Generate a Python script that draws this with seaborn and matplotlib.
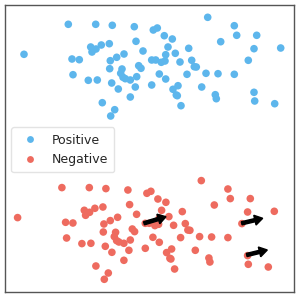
import matplotlib
matplotlib.use("Agg")
import matplotlib.pyplot as plt
import seaborn as sns
import pandas as pd

pos_x = [68.3, 95.7, 112.3, 134.3, 24.0, 136.0, 109.3, 101.3, 90.7, 96.0, 92.0, 143.0,
         124.0, 116.7, 72.0, 79.3, 110.3, 138.7, 141.0, 109.7, 122.0, 120.7, 73.0, 136.7,
         123.0, 125.3, 130.3, 88.3, 97.3, 111.7, 135.3, 118.3, 130.3, 102.3, 114.7, 110.7,
         207.7, 234.3, 153.3, 157.3, 236.7, 256.7, 164.3, 172.3, 220.7, 168.0, 188.7, 254.0,
         280.7, 175.3, 165.7, 151.7, 155.7, 161.3, 165.0, 180.0, 191.7, 248.3, 194.3, 196.3,
         159.3, 187.0, 206.0, 218.0, 234.3, 165.7, 151.7, 178.0, 201.7, 173.0, 176.3, 177.3,
         215.3, 216.3, 254.0, 254.7, 274.7, 181.0]
pos_y = [272.7, 272.7, 271.7, 270.3, 242.7, 255.7, 253.3, 252.0, 250.0, 248.0, 245.0, 246.0,
         243.0, 239.7, 238.0, 237.3, 236.3, 231.3, 228.7, 228.3, 228.0, 223.7, 222.3, 220.3,
         219.7, 218.3, 217.0, 216.7, 217.0, 214.0, 210.0, 208.0, 200.0, 194.3, 187.3, 181.0,
         279.7, 271.3, 267.0, 269.0, 261.7, 261.7, 261.3, 258.0, 255.3, 250.0, 248.7, 248.3,
         249.0, 243.7, 242.3, 237.0, 237.0, 234.7, 236.0, 235.0, 236.7, 236.7, 230.3, 230.0,
         223.0, 222.7, 223.7, 223.3, 222.7, 218.0, 212.0, 211.3, 210.0, 207.7, 202.0, 201.3,
         202.3, 198.3, 204.7, 196.0, 193.3, 191.3]

neg_x = [61.9, 89.3, 105.9, 127.9, 17.6, 129.6, 102.9, 94.9, 84.3, 89.6, 85.6, 136.6,
         117.6, 110.3, 65.6, 72.9, 103.9, 132.3, 134.6, 103.3, 115.6, 114.3, 66.6, 130.3,
         116.6, 118.9, 123.9, 81.9, 90.9, 105.3, 128.9, 111.9, 123.9, 95.9, 108.3, 104.3,
         201.3, 227.9, 146.9, 150.9, 230.3, 250.3, 157.9, 165.9, 214.3, 161.6, 182.3, 247.6,
         274.3, 168.9, 159.3, 145.3, 149.3, 154.9, 158.6, 173.6, 185.3, 241.9, 187.9, 189.9,
         152.9, 180.6, 199.6, 211.6, 227.9, 159.3, 145.3, 171.6, 195.3, 166.6, 169.9, 170.9,
         208.9, 209.9, 247.6, 248.3, 268.3, 174.6]
neg_y = [109.4, 109.4, 108.4, 107.0, 79.4, 92.4, 90.0, 88.7, 86.7, 84.7, 81.7, 82.7,
         79.7, 76.4, 74.7, 74.0, 73.0, 68.0, 65.4, 65.0, 64.7, 60.4, 59.0, 57.0,
         56.4, 55.0, 53.7, 53.4, 53.7, 50.7, 46.7, 44.7, 36.7, 31.0, 24.0, 17.7,
         116.4, 108.0, 103.7, 105.7, 98.4, 98.4, 98.0, 94.7, 92.0, 86.7, 85.4, 85.0,
         85.7, 80.4, 79.0, 73.7, 73.7, 71.4, 72.7, 71.7, 73.4, 73.4, 67.0, 66.7,
         59.7, 59.4, 60.4, 60.0, 59.4, 54.7, 48.7, 48.0, 46.7, 44.4, 38.7, 38.0,
         39.0, 35.0, 41.4, 32.7, 30.0, 28.0]

arrow_x = [144.0, 241.7, 246.7]
arrow_y = [73.7, 73.7, 42.0]
arrow_dx = [22.0, 21.0, 20.6]
arrow_dy = [6.6, 5.0, 5.0]

labels = ["Positive", "Negative"]
colors = ["#5db6ec", "#ee6b5f"]

df = pd.DataFrame({
    "x": pos_x + neg_x,
    "y": pos_y + neg_y,
    "label": [labels[0]] * len(pos_x) + [labels[1]] * len(neg_x),
})

sns.set_style("white")
fig = plt.figure(figsize=(2.99, 2.97), dpi=100)
ax = fig.add_axes([4.5 / 299, 4.7 / 297, 289.5 / 299, 287.8 / 297])
sns.scatterplot(data=df, x="x", y="y", hue="label", palette=colors,
                s=30, linewidth=0, ax=ax, zorder=2)
for x0, y0, dx, dy in zip(arrow_x, arrow_y, arrow_dx, arrow_dy):
    ax.arrow(x0, y0, dx, dy, width=3.2, head_width=10, head_length=8,
             length_includes_head=True, color="black", zorder=3)

ax.set_xlim(4.5, 294)
ax.set_ylim(4.7, 292.5)
ax.set_xticks([])
ax.set_yticks([])
ax.set_xlabel("")
ax.set_ylabel("")
for sp in ax.spines.values():
    sp.set_color("#555555")
    sp.set_linewidth(1.0)

leg = ax.legend(loc="upper left", bbox_to_anchor=(0.0225, 0.573), borderaxespad=0,
                fontsize=9, frameon=True, handletextpad=0.75, borderpad=0.5,
                markerscale=0.9)
leg.get_frame().set_edgecolor("#dddddd")

fig.savefig("out.png", dpi=100)
